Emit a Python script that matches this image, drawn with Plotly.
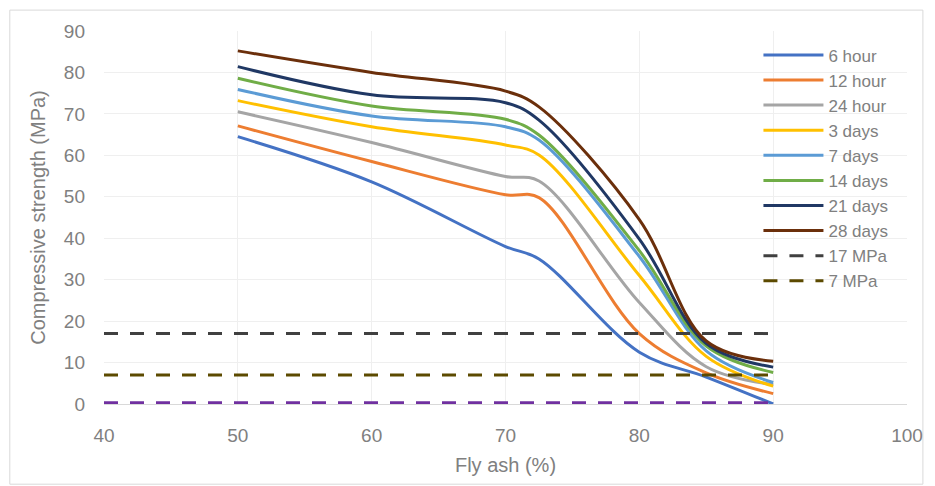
import plotly.graph_objects as go

fly_ash = [50, 60, 70, 72.5, 80, 85, 90]
series_names = ["6 hour", "12 hour", "24 hour", "3 days", "7 days", "14 days", "21 days", "28 days"]
s_6h = [64.5, 53.6, 38.0, 35.0, 12.5, 6.5, 0.0]
s_12h = [67.1, 58.5, 50.5, 49.8, 17.0, 7.5, 2.5]
s_24h = [70.5, 63.1, 54.9, 53.8, 24.5, 9.0, 4.7]
s_3d = [73.2, 66.9, 62.5, 60.1, 31.0, 11.5, 4.3]
s_7d = [75.9, 69.5, 66.9, 63.7, 35.6, 12.8, 5.2]
s_14d = [78.6, 71.9, 68.7, 64.9, 37.0, 14.0, 7.6]
s_21d = [81.4, 74.6, 72.7, 68.5, 39.8, 14.6, 8.9]
s_28d = [85.2, 80.0, 75.5, 71.7, 44.5, 15.2, 10.3]
series_values = [s_6h, s_12h, s_24h, s_3d, s_7d, s_14d, s_21d, s_28d]
series_colors = ["#4472C4", "#ED7D31", "#A5A5A5", "#FFC000", "#5B9BD5", "#70AD47", "#203864", "#6B2F0B"]

limit_x = [40, 90]
limit_17 = [17, 17]
limit_7 = [7, 7]
limit_0 = [0.3, 0.3]

FONT = "Liberation Sans, Arial, sans-serif"
TXT = "#808080"

fig = go.Figure()
for name, vals, col in zip(series_names, series_values, series_colors):
    fig.add_trace(go.Scatter(x=fly_ash, y=vals, name=name, mode="lines",
                             line=dict(color=col, width=3, shape="spline", smoothing=1.0)))

fig.add_trace(go.Scatter(x=limit_x, y=limit_17, name="17 MPa", mode="lines",
                         line=dict(color="#404040", width=3, dash="14px,12px")))
fig.add_trace(go.Scatter(x=limit_x, y=limit_7, name="7 MPa", mode="lines",
                         line=dict(color="#5C4A00", width=3, dash="14px,12px")))
fig.add_trace(go.Scatter(x=limit_x, y=limit_0, name="0 MPa", mode="lines", showlegend=False,
                         line=dict(color="#7030A0", width=3, dash="14px,12px")))

fig.update_layout(
    width=935, height=486,
    margin=dict(l=104, r=21, t=31, b=82),
    paper_bgcolor="white", plot_bgcolor="white",
    font=dict(family=FONT, size=18, color=TXT),
    showlegend=True,
    legend=dict(x=0.815, y=0.983, xanchor="left", yanchor="top",
                bgcolor="rgba(0,0,0,0)", font=dict(size=17, color=TXT),
                tracegroupgap=0, itemwidth=60),
    xaxis=dict(range=[40, 100], dtick=10, tick0=40, showgrid=True, gridcolor="#EFEFEF",
               zeroline=False, showline=True, linecolor="#D9D9D9", linewidth=1,
               ticks="", ticklabelstandoff=14, tickfont=dict(size=19, color=TXT),
               title=dict(text="Fly ash (%)", font=dict(size=20, color=TXT), standoff=13)),
    yaxis=dict(range=[0, 90], dtick=10, tick0=0, showgrid=True, gridcolor="#EFEFEF",
               zeroline=False, showline=False, ticks="", ticklabelstandoff=18,
               tickfont=dict(size=19, color=TXT),
               title=dict(text="Compressive strength (MPa)", font=dict(size=20, color=TXT), standoff=12)),
    shapes=[dict(type="rect", xref="paper", yref="paper",
                 x0=-0.1173, x1=1.0198, y0=-0.215, y1=1.056,
                 line=dict(color="#D9D9D9", width=1), fillcolor="rgba(0,0,0,0)", layer="below")],
)

fig.write_html("out.html")
